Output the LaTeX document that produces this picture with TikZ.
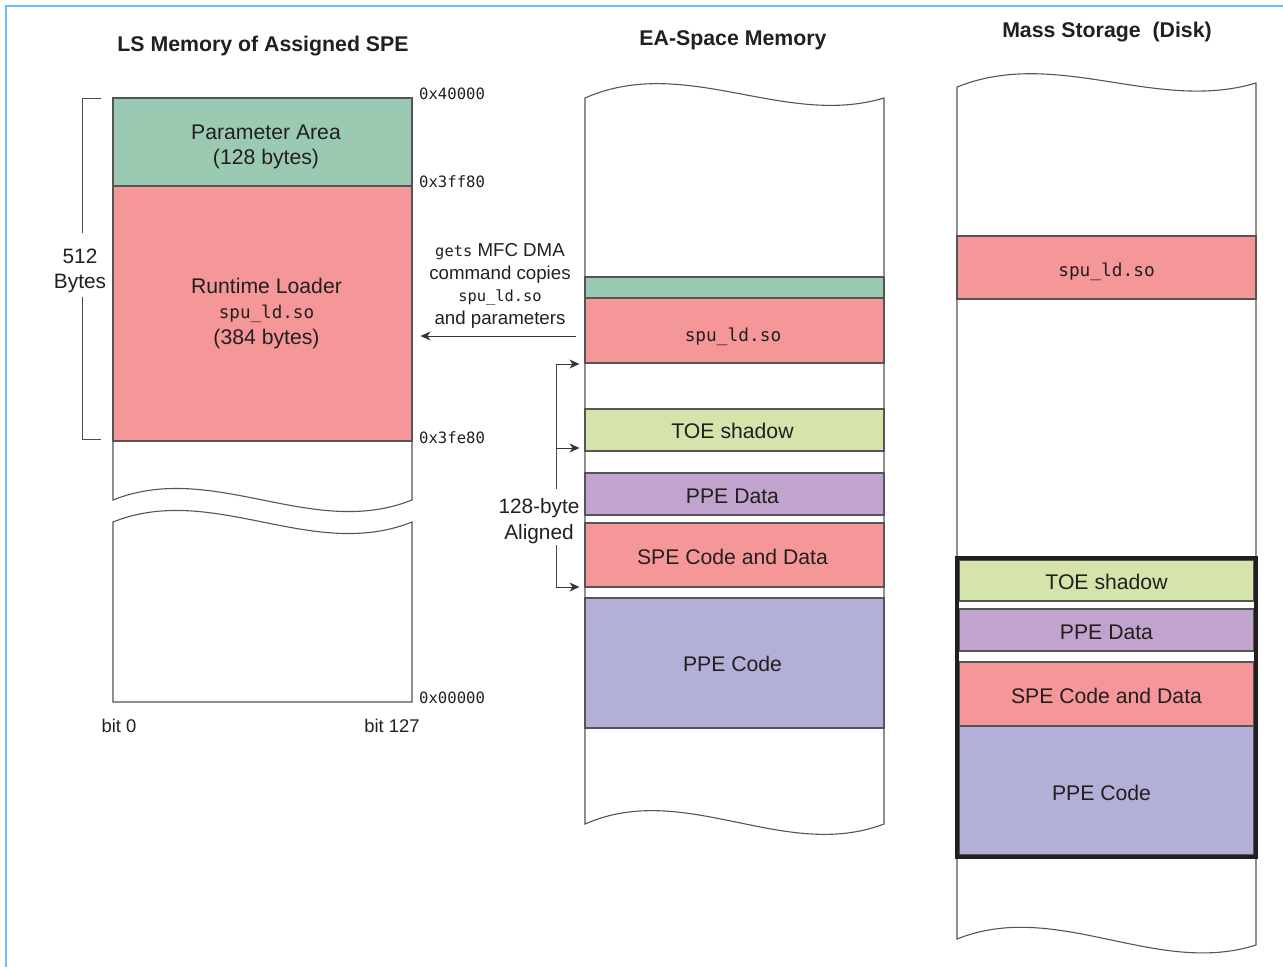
\documentclass[tikz,border=0pt]{standalone}
\usepackage{fontspec}
\setmainfont{Liberation Sans}
\newfontfamily\monof{DejaVu Sans Mono}
\usetikzlibrary{arrows.meta,calc}
\definecolor{paramgreen}{HTML}{9BCAB3}
\definecolor{loaderpink}{HTML}{F59798}
\definecolor{toegreen}{HTML}{D4E4AB}
\definecolor{ppepurple}{HTML}{C1A4CD}
\definecolor{codeblue}{HTML}{B2B0D8}
\definecolor{ink}{HTML}{231F20}
\definecolor{edgegray}{HTML}{555555}
\definecolor{framebl}{HTML}{6CBEFF}
\newcommand\mtt[2]{{\monof\fontsize{#1}{#1}\selectfont #2}}
\begin{document}
\begin{tikzpicture}[x=1pt,y=-1pt,
  blk/.style={draw=edgegray, line width=1.1pt, minimum width=299pt, inner sep=0pt},
  ms/.style={blk, minimum width=295pt},
  txt/.style={inner sep=0pt, align=center, text=ink, font=\fontsize{21.2}{25.5}\selectfont},
  col/.style={draw=edgegray, line width=1.1pt, fill=white},
  lbl/.style={text=ink, inner sep=1pt, align=center},
  addr/.style={lbl, anchor=west, font=\monof\fontsize{15.6}{18}\selectfont},
  ttl/.style={text=ink, inner sep=1pt, font=\bfseries\fontsize{21.3}{24}\selectfont},
  arr/.style={draw=ink!90, line width=1pt, -{Stealth[length=10pt,width=9pt,inset=3pt]}},
  brk/.style={draw=ink!80, line width=1pt},
]
\useasboundingbox[fill=white] (0,0) rectangle (1283,967);
% frame
\draw[framebl, line width=2.8pt] (6,967) -- (6,6) -- (1283,6);

% titles
\node[ttl] (t-ls) at (263,46) {LS Memory of Assigned SPE};
\node[ttl] (t-ea) at (733,40) {EA-Space Memory};
\node[ttl] (t-ms) at (1107,32) {Mass Storage\ \ (Disk)};

% ---------- LS column ----------
\draw[col] (113,98) -- (113,500) .. controls (213,460) and (312,540) .. (412,500) -- (412,98) -- cycle;
\draw[col] (113,522) .. controls (213,482) and (312,562) .. (412,522) -- (412,702) -- (113,702) -- cycle;
\node[blk, fill=paramgreen, minimum height=88pt] (ls-param) at (262.5,142) {};
\node[txt] (ls-param-t) at ($(ls-param.center)+(3.5,5)$) {Parameter Area\\(128 bytes)};
\node[blk, fill=loaderpink, minimum height=255pt] (ls-rt) at (262.5,313.5) {};
\node[txt] (ls-rt-t) at ($(ls-rt.center)+(4,0)$) {Runtime Loader\\\mtt{17.6}{spu\_ld.so}\\(384 bytes)};

\node[addr] (a1) at (418,94) {0x40000};
\node[addr] (a2) at (418,182) {0x3ff80};
\node[addr] (a3) at (418,438) {0x3fe80};
\node[addr] (a4) at (418,698) {0x00000};
\node[lbl, font=\fontsize{18.4}{22}\selectfont] (bit0) at (119,726) {bit 0};
\node[lbl, font=\fontsize{18.4}{22}\selectfont] (bit127) at (392,726) {bit 127};

% 512 bytes bracket
\node[lbl, font=\fontsize{20.8}{25}\selectfont] (bytes) at (80,271) {512\\Bytes};
\coordinate (b-t1) at (101,98);
\coordinate (b-t2) at (82,98);
\coordinate (b-t3) at (82,233);
\coordinate (b-b1) at (82,297);
\coordinate (b-b2) at (82,439);
\coordinate (b-b3) at (101,439);
\draw[brk] (b-t1) -- (b-t2) -- (b-t3);
\draw[brk] (b-b1) -- (b-b2) -- (b-b3);

% ---------- EA column ----------
\draw[col] (585,98) .. controls (685,54) and (784,128) .. (884,98) -- (884,824)
  .. controls (784,862) and (685,780) .. (585,824) -- cycle;
\node[blk, fill=paramgreen, minimum height=21pt] (ea-param) at (734.5,287.5) {};
\node[blk, fill=loaderpink, minimum height=65pt] (ea-spu) at (734.5,330.5) {};
\node[txt] (ea-spu-t) at ($(ea-spu.center)+(-1.5,6.5)$) {\mtt{17.8}{spu\_ld.so}};
\node[blk, fill=toegreen, minimum height=42pt] (ea-toe) at (734.5,430) {};
\node[txt] (ea-toe-t) at ($(ea-toe.center)+(-2,1)$) {TOE shadow};
\node[blk, fill=ppepurple, minimum height=42pt] (ea-ppedata) at (734.5,494) {};
\node[txt] (ea-ppedata-t) at ($(ea-ppedata.center)+(-2,2)$) {PPE Data};
\node[blk, fill=loaderpink, minimum height=64pt] (ea-spe) at (734.5,555) {};
\node[txt] (ea-spe-t) at ($(ea-spe.center)+(-2,2)$) {SPE Code and Data};
\node[blk, fill=codeblue, minimum height=130pt] (ea-ppecode) at (734.5,663) {};
\node[txt] (ea-ppecode-t) at ($(ea-ppecode.center)+(-2,1)$) {PPE Code};

% DMA arrow
\node[lbl, font=\fontsize{18.7}{22.7}\selectfont] (dma) at (500,286)
  {\mtt{15.4}{gets} MFC DMA\\command copies\\\mtt{15.4}{spu\_ld.so}\\and parameters};
\coordinate (dmaS) at (576,336);
\draw[arr] (dmaS) -- ($(dmaS -| ls-rt.east)+(8,0)$);

% 128-byte aligned bracket
\node[lbl, font=\fontsize{20.8}{26}\selectfont] (aligned) at (539,521) {128-byte\\Aligned};
\coordinate (br-top) at (556,364);
\coordinate (br-mid) at (556,448);
\coordinate (br-bot) at (556,587);
\coordinate (br-gt) at (556,489);
\coordinate (br-gb) at (556,545);
\draw[brk] (br-top) -- (br-gt);
\draw[brk] (br-gb) -- (br-bot);
\draw[arr] (br-top) -- ($(br-top -| ea-spu.west)+(-5,0)$);
\draw[arr] (br-mid) -- ($(br-mid -| ea-toe.west)+(-5,0)$);
\draw[arr] (br-bot) -- ($(br-bot -| ea-spe.west)+(-5,0)$);

% ---------- Mass storage column ----------
\draw[col] (957,87) .. controls (1057,47) and (1156,113) .. (1256,83) -- (1256,945)
  .. controls (1156,977) and (1057,899) .. (957,939) -- cycle;
\node[blk, fill=loaderpink, minimum height=63pt] (ms-spu) at (1106.5,267.5) {};
\node[txt] (ms-spu-t) at ($(ms-spu.center)+(0,4)$) {\mtt{17.8}{spu\_ld.so}};
\node[ms, fill=toegreen, minimum height=41pt] (ms-toe) at (1106.5,580.5) {};
\node[txt] (ms-toe-t) at ($(ms-toe.center)+(0,1)$) {TOE shadow};
\node[ms, fill=ppepurple, minimum height=42pt] (ms-ppedata) at (1106.5,630) {};
\node[txt] (ms-ppedata-t) at ($(ms-ppedata.center)+(0,2)$) {PPE Data};
\node[ms, fill=loaderpink, minimum height=64pt] (ms-spe) at (1106.5,694) {};
\node[txt] (ms-spe-t) at ($(ms-spe.center)+(0,1.5)$) {SPE Code and Data};
\node[ms, fill=codeblue, minimum height=129pt] (ms-ppecode) at (1106.5,790.5) {};
\node[txt] (ms-ppecode-t) at ($(ms-ppecode.center)+(-5,2)$) {PPE Code};
\node[draw=ink, line width=3.6pt, minimum width=299pt, minimum height=299pt, inner sep=0pt]
  (ms-group) at (1106.5,707.5) {};
\end{tikzpicture}
\end{document}
